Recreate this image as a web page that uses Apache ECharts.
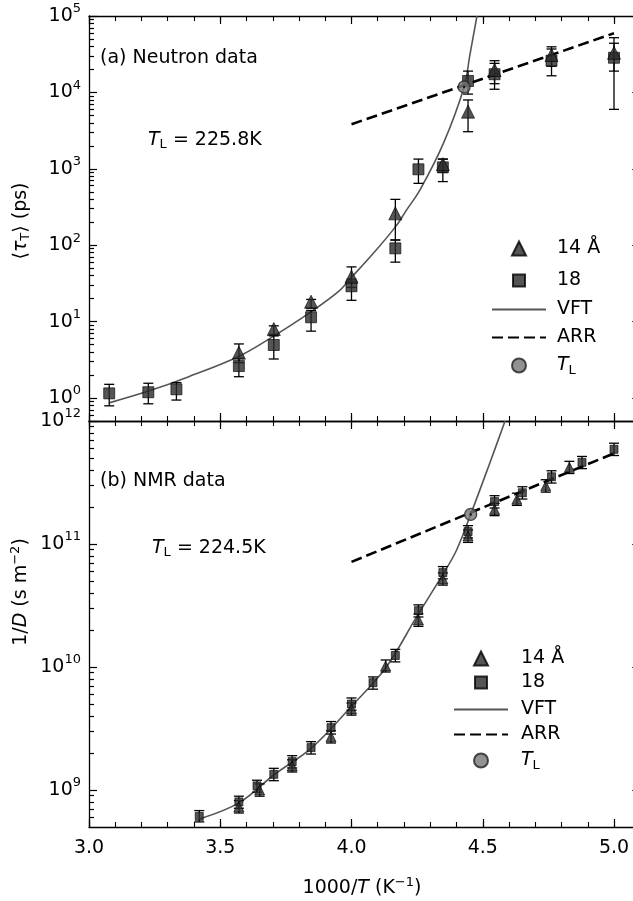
<!DOCTYPE html>
<html><head><meta charset="utf-8">
<script src="https://cdn.jsdelivr.net/npm/echarts@6/dist/echarts.min.js"></script>
<style>html,body{margin:0;padding:0;background:#fff}#c{width:633px;height:901px}</style>
</head><body><div id="c"></div><script>
// ---------------- data ----------------
// (a) Neutron data: <tau_T> (ps) vs 1000/T
const xNeuSq   = [3.077,3.226,3.333,3.571,3.704,3.846,4.0,4.167,4.255,4.348,4.444,4.545,4.762,5.0];
const tauSq    = [1.15,1.19,1.30,2.62,4.94,11.4,29,91,985,1045,14100,17300,26000,28400];
const tauSqLo  = [0.79,0.84,0.94,1.9,3.24,7.5,19,60,645,680,9500,11000,16500,6000];
const tauSqHi  = [1.51,1.56,1.59,3.3,6.5,14,36,117,1340,1340,19000,24000,37000,44000];
const xNeuTri  = [3.571,3.704,3.846,4.0,4.167,4.348,4.444,4.545,4.762,5.0];
const tauTri   = [3.92,8.0,18.2,38.7,261,1150,5600,19600,30900,33000];
const tauTriLo = [2.9,6.8,15,28,117,900,3060,13000,22000,19000];
const tauTriHi = [5.1,8.8,19.5,52,398,1340,7960,26000,39500,52000];
const xNeuVFT  = [3.08,3.23,3.38,3.574,3.705,3.847,3.952,4.0,4.08,4.168,4.21,4.261,4.35,4.429,4.451,4.478];
const tauVFT   = [0.87,1.24,1.9,3.55,6.5,13.5,25,38,76,175,290,530,2150,11800,31000,100000];
const xNeuARR  = [4.0,5.0];
const tauARR   = [3830,59500];
const xNeuTL   = [4.429];
const tauTL    = [11800];

// (b) NMR data: 1/D (s m^-2) vs 1000/T
const xNmrSq   = [3.42,3.571,3.64,3.704,3.774,3.846,3.922,4.0,4.082,4.167,4.255,4.348,4.444,4.545,4.651,4.762,4.878,5.0];
const invDSq   = [6.1e8,8.0e8,1.08e9,1.34e9,1.70e9,2.21e9,3.21e9,5.0e9,7.45e9,1.24e10,2.87e10,5.85e10,1.26e11,2.21e11,2.61e11,3.52e11,4.61e11,5.89e11];
const invDSqLo = [5.5e8,7.1e8,0.96e9,1.19e9,1.51e9,1.96e9,2.85e9,4.45e9,6.6e9,1.1e10,2.55e10,5.2e10,1.12e11,1.96e11,2.32e11,3.13e11,4.1e11,5.24e11];
const invDSqHi = [6.8e8,8.9e8,1.2e9,1.5e9,1.9e9,2.47e9,3.6e9,5.6e9,8.3e9,1.39e10,3.2e10,6.55e10,1.41e11,2.47e11,2.92e11,3.94e11,5.15e11,6.6e11];
const xNmrTri  = [3.571,3.65,3.774,3.922,4.0,4.13,4.255,4.348,4.444,4.545,4.63,4.74,4.83];
const invDTri  = [7.3e8,1.0e9,1.57e9,2.71e9,4.56e9,1.02e10,2.41e10,5.2e10,1.16e11,1.91e11,2.31e11,2.97e11,4.2e11];
const invDTriLo= [6.5e8,0.89e9,1.4e9,2.41e9,4.06e9,0.91e10,2.14e10,4.63e10,1.03e11,1.7e11,2.06e11,2.64e11,3.74e11];
const invDTriHi= [8.2e8,1.12e9,1.76e9,3.03e9,5.1e9,1.14e10,2.7e10,5.82e10,1.3e11,2.14e11,2.59e11,3.33e11,4.7e11];
const xNmrVFT  = [3.42,3.573,3.705,3.848,4.0,4.13,4.25,4.347,4.40,4.454,4.52,4.585];
const invDVFT  = [5.8e8,7.9e8,1.33e9,2.2e9,4.8e9,9.8e9,2.6e10,5.6e10,8.9e10,1.74e11,4.15e11,1e12];
const xNmrARR  = [4.0,5.0];
const invDARR  = [7.15e10,5.46e11];
const xNmrTL   = [4.454];
const invDTL   = [1.74e11];

// axis ticks
const xTickLabels = ['3.0','3.5','4.0','4.5','5.0'];
const yMajorTop = [1,10,100,1000,10000,100000];
const yMinorTop = [0.6,0.7,0.8,0.9,2,3,4,5,6,7,8,9,20,30,40,50,60,70,80,90,200,300,400,500,600,700,800,900,
  2000,3000,4000,5000,6000,7000,8000,9000,20000,30000,40000,50000,60000,70000,80000,90000];
const yMajorBot = [1e9,1e10,1e11,1e12];
const yMinorBot = [6e8,7e8,8e8,9e8,2e9,3e9,4e9,5e9,6e9,7e9,8e9,9e9,2e10,3e10,4e10,5e10,6e10,7e10,8e10,9e10,
  2e11,3e11,4e11,5e11,6e11,7e11,8e11,9e11];
const legendNames = ['14 Å', '18', 'VFT', 'ARR', 'TL'];

// ---------------- chart ----------------
const FONT = '"DejaVu Sans", Verdana, sans-serif';
const FS = 19;
const pair = (xs, ys) => xs.map((x, i) => [x, ys[i]]);
const triple = (xs, lo, hi) => xs.map((x, i) => [x, lo[i], hi[i]]);

function errRender(cap) {
  return function (params, api) {
    const x = api.value(0), lo = api.value(1), hi = api.value(2);
    const p1 = api.coord([x, lo]), p2 = api.coord([x, hi]);
    const st = { stroke: '#000', lineWidth: 1.3, fill: null };
    return { type: 'group', children: [
      { type: 'line', shape: { x1: p1[0], y1: p1[1], x2: p2[0], y2: p2[1] }, style: st },
      { type: 'line', shape: { x1: p1[0] - cap, y1: p1[1], x2: p1[0] + cap, y2: p1[1] }, style: st },
      { type: 'line', shape: { x1: p2[0] - cap, y1: p2[1], x2: p2[0] + cap, y2: p2[1] }, style: st }
    ]};
  };
}

const axLine = { lineStyle: { color: '#000', width: 1.3 } };
const XMIN = 3.0, XMAX = 5.1;
function xMajor(grid, pos, labels) {
  return {
    type: 'value', gridIndex: grid, position: pos, min: XMIN, max: XMAX, interval: 0.5,
    axisLine: axLine,
    axisTick: { inside: true, length: 8, lineStyle: { color: '#000', width: 1.2 } },
    splitLine: { show: false },
    axisLabel: labels ? {
      show: true, margin: 12, fontSize: FS, fontFamily: FONT, color: '#000',
      formatter: v => { const s = v.toFixed(1); return xTickLabels.indexOf(s) >= 0 ? s : ''; }
    } : { show: false }
  };
}
function xMinor(grid, pos) {
  return {
    type: 'value', gridIndex: grid, position: pos, min: XMIN, max: XMAX, interval: 0.1,
    axisLine: { show: false },
    axisTick: { inside: true, length: 5, lineStyle: { color: '#000', width: 1.1 } },
    splitLine: { show: false }, axisLabel: { show: false }
  };
}
const supRich = {
  b: { fontSize: FS, fontFamily: FONT, color: '#000' },
  s: { fontSize: 13, fontFamily: FONT, color: '#000', padding: [0, 0, 14, 0] }
};
function yAx(grid, pos, mn, mx, ticks, len, line, labels) {
  return {
    type: 'log', logBase: 10, gridIndex: grid, position: pos, min: mn, max: mx,
    axisLine: line ? axLine : { show: false },
    axisTick: { inside: true, length: len, customValues: ticks, lineStyle: { color: '#000', width: 1.2 } },
    splitLine: { show: false },
    axisLabel: labels ? {
      customValues: ticks, margin: 8,
      formatter: v => '{b|10}{s|' + Math.round(Math.log10(v)) + '}', rich: supRich
    } : { show: false }
  };
}

const mk = { color: '#2b2b2b', borderColor: '#000', borderWidth: 0.8 };
function panelSeries(g, d) {
  return [
    { type: 'custom', name: 'errSq', xAxisIndex: g.xi, yAxisIndex: g.yi, renderItem: errRender(5),
      encode: { x: 0, y: [1, 2] }, data: d.sqErr, z: 2, silent: true },
    { type: 'custom', name: 'errTri', xAxisIndex: g.xi, yAxisIndex: g.yi, renderItem: errRender(5),
      encode: { x: 0, y: [1, 2] }, data: d.triErr, z: 2, silent: true },
    { type: 'line', name: 'VFT', xAxisIndex: g.xi, yAxisIndex: g.yi, data: d.vft, smooth: 0.35,
      symbol: 'none', lineStyle: { color: '#555', width: 1.6 }, itemStyle: { color: '#555' }, z: 1, clip: true },
    { type: 'line', name: 'ARR', xAxisIndex: g.xi, yAxisIndex: g.yi, data: d.arr,
      symbol: 'none', lineStyle: { color: '#000', width: 2.6, type: [11, 5] }, itemStyle: { color: '#000' }, z: 1 },
    { type: 'scatter', name: '18', xAxisIndex: g.xi, yAxisIndex: g.yi, data: d.sq, symbol: 'rect',
      symbolSize: g.sqSize, itemStyle: mk, z: 3 },
    { type: 'scatter', name: '14 Å', xAxisIndex: g.xi, yAxisIndex: g.yi, data: d.tri, symbol: 'triangle',
      symbolSize: g.triSize, itemStyle: mk, z: 3 },
    { type: 'scatter', name: 'TL', xAxisIndex: g.xi, yAxisIndex: g.yi, data: d.tl, symbol: 'circle',
      symbolSize: 12, itemStyle: { color: '#777', borderColor: '#222', borderWidth: 1.3 }, z: 4 },
    { type: 'scatter', name: 'TLdot', xAxisIndex: g.xi, yAxisIndex: g.yi, data: d.tl, symbol: 'circle',
      symbolSize: 2.5, itemStyle: { color: '#000' }, z: 5 }
  ];
}

const legRich = {
  it: { fontSize: FS, fontFamily: FONT, fontStyle: 'italic', color: '#000' },
  sub: { fontSize: 13, fontFamily: FONT, color: '#000', padding: [10, 0, 0, 0] }
};
const hideSym = { color: 'rgba(0,0,0,0)', borderColor: 'rgba(0,0,0,0)', borderWidth: 0, opacity: 0 };
// one legend component per entry, so each row can sit where it does in the figure
function legendItem(name, iconX, textX, rowY) {
  const isLine = name === 'VFT' || name === 'ARR';
  const iw = isLine ? 54 : (name === '18' ? 12 : 14);
  const left = iconX - iw / 2;
  const item = isLine ? { name: name, itemStyle: hideSym } : { name: name };
  return {
    data: [item], orient: 'vertical', left: left, top: rowY - 11, padding: 0,
    itemWidth: iw, itemHeight: iw > 14 ? 14 : iw, selectedMode: false,
    textStyle: { fontSize: FS, fontFamily: FONT, color: '#000', padding: [0, 0, 0, textX - left - iw - 5], rich: legRich },
    formatter: n => n === 'TL' ? '{it|T}{sub|L}' : n
  };
}
const legTopRows = [250, 282, 311, 339, 367];
const legBotRows = [660, 684, 711, 736, 762];
const legends = legendNames.map((n, i) => legendItem(n, 518, 556, legTopRows[i]))
  .concat(legendNames.map((n, i) => legendItem(n, 480, 520, legBotRows[i])));

const textRich = {
  n: { fontSize: FS, fontFamily: FONT, fill: '#000' },
  it: { fontSize: FS, fontFamily: FONT, fontStyle: 'italic', fill: '#000' },
  sub: { fontSize: 13, fontFamily: FONT, fill: '#000', padding: [10, 0, 0, 0] },
  sup: { fontSize: 13, fontFamily: FONT, fill: '#000', padding: [0, 0, 11, 0] }
};
function txt(x, y, text, align, rot) {
  return { type: 'text', x: x, y: y, rotation: rot || 0, z: 10,
    style: { text: text, rich: textRich, fontSize: FS, fontFamily: FONT, fill: '#000',
      align: align || 'left', verticalAlign: 'middle' } };
}

const GW = (XMAX - XMIN) * 262.5;
const chart = echarts.init(document.getElementById('c'), null, { renderer: 'canvas' });
chart.setOption({
  animation: false,
  backgroundColor: '#fff',
  grid: [
    { left: 89, top: 16, width: GW, height: 405, containLabel: false, outerBoundsMode: 'none' },
    { left: 89, top: 421, width: GW, height: 406, containLabel: false, outerBoundsMode: 'none' }
  ],
  xAxis: [xMajor(0, 'bottom', false), xMajor(0, 'top', false), xMajor(1, 'bottom', true), xMajor(1, 'top', false),
          xMinor(0, 'bottom'), xMinor(0, 'top'), xMinor(1, 'bottom'), xMinor(1, 'top')],
  yAxis: [yAx(0, 'left', 0.5, 1e5, yMajorTop, 8, true, true), yAx(0, 'left', 0.5, 1e5, yMinorTop, 5, false, false),
          yAx(1, 'left', 5e8, 1e12, yMajorBot, 8, true, true), yAx(1, 'left', 5e8, 1e12, yMinorBot, 5, false, false),
          yAx(0, 'right', 0.5, 1e5, yMajorTop, 8, true, false), yAx(0, 'right', 0.5, 1e5, yMinorTop, 5, false, false),
          yAx(1, 'right', 5e8, 1e12, yMajorBot, 8, true, false), yAx(1, 'right', 5e8, 1e12, yMinorBot, 5, false, false)],
  legend: legends,
  series: [].concat(
    panelSeries({ xi: 0, yi: 0, sqSize: 11, triSize: 13 }, {
      sqErr: triple(xNeuSq, tauSqLo, tauSqHi), triErr: triple(xNeuTri, tauTriLo, tauTriHi),
      vft: pair(xNeuVFT, tauVFT), arr: pair(xNeuARR, tauARR),
      sq: pair(xNeuSq, tauSq), tri: pair(xNeuTri, tauTri), tl: pair(xNeuTL, tauTL)
    }),
    panelSeries({ xi: 2, yi: 2, sqSize: 8, triSize: 10 }, {
      sqErr: triple(xNmrSq, invDSqLo, invDSqHi), triErr: triple(xNmrTri, invDTriLo, invDTriHi),
      vft: pair(xNmrVFT, invDVFT), arr: pair(xNmrARR, invDARR),
      sq: pair(xNmrSq, invDSq), tri: pair(xNmrTri, invDTri), tl: pair(xNmrTL, invDTL)
    })
  ),
  graphic: [
    txt(100, 58, '{n|(a) Neutron data}'),
    txt(148, 140, '{it|T}{sub|L}{n| = 225.8K}'),
    txt(100, 481, '{n|(b) NMR data}'),
    txt(152, 548, '{it|T}{sub|L}{n| = 224.5K}'),
    txt(362, 888, '{n|1000/}{it|T}{n| (K}{sup|−1}{n|)}', 'center'),
    txt(21, 221, '{n|⟨}{it|τ}{sub|T}{n|⟩ (ps)}', 'center', Math.PI / 2),
    txt(21, 592, '{n|1/}{it|D}{n| (s m}{sup|−2}{n|)}', 'center', Math.PI / 2)
  ]
});
</script></body></html>
